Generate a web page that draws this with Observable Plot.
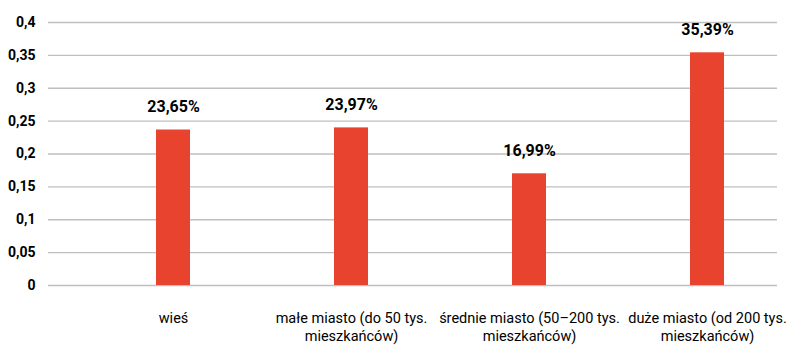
<!DOCTYPE html>
<html>
<head>
<meta charset="utf-8">
<script src="https://cdn.jsdelivr.net/npm/d3@7"></script>
<script src="https://cdn.jsdelivr.net/npm/@observablehq/plot@0.6"></script>
<style>
  html, body { margin: 0; padding: 0; background: #fff; }
  #chart svg { display: block; }
</style>
</head>
<body>
<div id="chart"></div>
<script>
// Place of residence categories (two-line axis labels)
const categories = [
  "wieś",
  "małe miasto (do 50 tys.\nmieszkańców)",
  "średnie miasto (50–200 tys.\nmieszkańców)",
  "duże miasto (od 200 tys.\nmieszkańców)"
];
// Share of respondents per category
const shares = [0.2365, 0.2397, 0.1699, 0.3539];
// Y tick values
const yTicks = [0, 0.05, 0.1, 0.15, 0.2, 0.25, 0.3, 0.35, 0.4];

const data = categories.map((c, i) => ({category: c, share: shares[i]}));

const fontFamily = "Roboto, 'Noto Sans', sans-serif";
const comma = (v, digits) => v.toFixed(digits).replace(".", ",");
const yFmt = v => String(+v.toFixed(2)).replace(".", ",");

const chart = Plot.plot({
  width: 786,
  height: 345,
  marginTop: 22,
  marginBottom: 60,
  marginLeft: 48,
  marginRight: 9,
  style: {fontFamily, fontSize: "14px", color: "#000", background: "#fff"},
  x: {domain: categories, range: [84, 797], paddingInner: 0.807, paddingOuter: 0.4035, label: null},
  y: {domain: [0, 0.4], label: null},
  marks: [
    Plot.gridY(yTicks, {stroke: "#bfbfbf", strokeOpacity: 1, strokeWidth: 1.3}),
    Plot.axisY(yTicks, {tickSize: 0, tickPadding: 13, tickFormat: yFmt, fontWeight: "bold", fontSize: 14, label: null}),
    Plot.axisX({tickSize: 0, tickPadding: 25, fontSize: 14.5, lineHeight: 1.22, label: null}),
    Plot.barY(data, {x: "category", y: "share", fill: "#e8432e"}),
    Plot.text(data, {
      x: "category", y: "share",
      text: d => comma(d.share * 100, 2) + "%",
      dy: -18, lineAnchor: "bottom",
      fontWeight: "bold", fontSize: 16, fill: "#000"
    })
  ]
});

document.getElementById("chart").appendChild(chart);
</script>
</body>
</html>
